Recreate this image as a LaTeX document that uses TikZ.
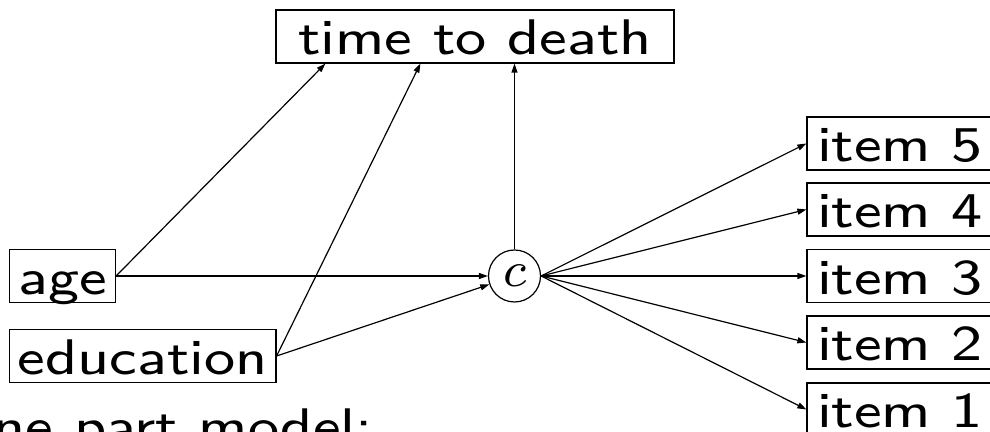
\documentclass[tikz,border=0pt]{standalone}
\usepackage{graphicx}
\usetikzlibrary{arrows.meta,calc}
\newdimen\px
\px=0.16pt
\newcommand{\wt}[1]{\scalebox{1.17}[1]{#1}}
\begin{document}
\begin{tikzpicture}[x=0.16pt,y=-0.16pt,
  every node/.style={font=\fontsize{8}{9.6}\sffamily},
  box/.style={draw,line width=1.2\px,inner sep=0pt,minimum height=53\px,
    text height=37\px,text depth=0pt},
  circ/.style={draw,circle,line width=1.2\px,inner sep=0pt,minimum size=52\px},
  conn/.style={line width=1.2\px,-{Triangle[length=1.44pt,width=0.96pt]}},
  lbl/.style={inner sep=0pt,anchor=base east}]
\useasboundingbox (0,0) rectangle (990,432);
\clip (0,0) rectangle (990,432);
\node[box,minimum width=398\px] (ttd) at (475,36.5) {\wt{time to death}};
\node[box,minimum width=106\px] (age) at (62.5,276) {\wt{age}};
\node[box,minimum width=266.5\px] (edu) at (142.75,356) {\wt{education}};
\node[circ] (c) at (514.5,276) {$c$};
\node[box,minimum width=186\px] (i5) at (900,143.5) {\wt{item 5}};
\node[box,minimum width=186\px] (i4) at (900,209.5) {\wt{item 4}};
\node[box,minimum width=186\px] (i3) at (900,276) {\wt{item 3}};
\node[box,minimum width=186\px] (i2) at (900,342.5) {\wt{item 2}};
\node[box,minimum width=186\px] (i1) at (900,409.5) {\wt{item 1}};
\node[lbl] (title) at (374,443.5) {\wt{One part model:}};
\draw[conn] (age.east) -- ($(ttd.south west)+(50,0)$);
\draw[conn] (edu.east) -- ($(ttd.south west)+(145,0)$);
\draw[conn] (c.north) -- (c.north |- ttd.south);
\draw[conn] (age.east) -- (c);
\draw[conn] (edu.east) -- (c);
\draw[conn] (c.east) -- (i5.west);
\draw[conn] (c.east) -- (i4.west);
\draw[conn] (c.east) -- (i3.west);
\draw[conn] (c.east) -- (i2.west);
\draw[conn] (c.east) -- (i1.west);
\end{tikzpicture}
\end{document}
